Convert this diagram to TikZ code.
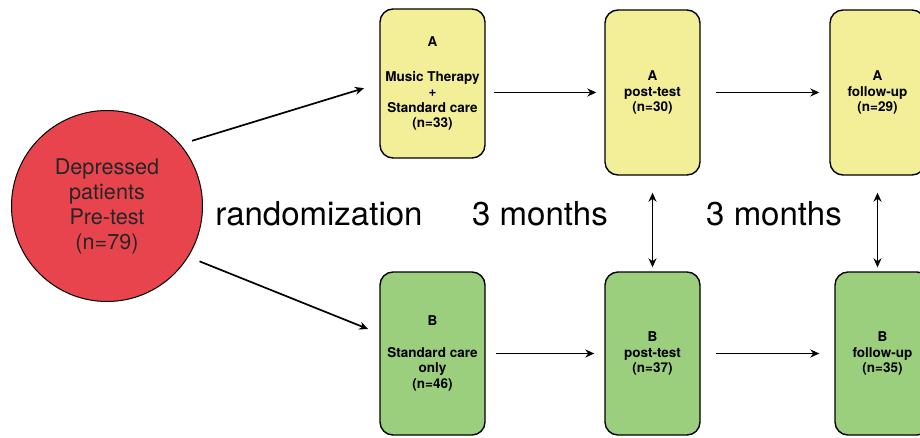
\documentclass[tikz,border=0pt]{standalone}
\usepackage{fontspec}
\setmainfont{TeX Gyre Heros}
\usetikzlibrary{arrows.meta}
\definecolor{boxyellow}{RGB}{243,238,152}
\definecolor{boxgreen}{RGB}{156,207,125}
\definecolor{poolred}{RGB}{232,68,78}
\begin{document}
\begin{tikzpicture}[x=1pt,y=-1pt,
  stage/.style={draw=black, line width=1.4pt, rounded corners=13pt,
    font=\fontsize{13.5}{15.5}\selectfont\bfseries, align=center, inner sep=0pt},
  yellowbox/.style={stage, fill=boxyellow},
  greenbox/.style={stage, fill=boxgreen},
  link/.style={-{Stealth[length=9pt,width=8pt]}, line width=1.7pt},
  twoway/.style={{Stealth[length=9pt,width=8pt]}-{Stealth[length=9pt,width=8pt]}, line width=1.7pt},
  biglabel/.style={font=\fontsize{33}{38}\selectfont}]
\useasboundingbox (0,0) rectangle (920,437);

% pooled sample
\node[circle, draw=black, fill=poolred, line width=1pt, minimum size=191pt,
  font=\fontsize{21.6}{25}\selectfont, align=center, text=black!85]
  (pool) at (107,206) {Depressed\\patients\\Pre-test\\(n=79)};

% group A (music therapy)
\node[yellowbox, minimum width=105pt, minimum height=149pt] (a1) at (432.5,83.5)
  {A\\[19pt]Music Therapy\\+\\Standard care\\(n=33)};
\node[yellowbox, minimum width=95pt, minimum height=165pt] (a2) at (652.5,92.5)
  {A\\post-test\\(n=30)};
\node[yellowbox, minimum width=95pt, minimum height=165pt] (a3) at (877.5,92.5)
  {A\\follow-up\\(n=29)};

% group B (standard care)
\node[greenbox, minimum width=105pt, minimum height=163pt] (b1) at (432.5,353.5)
  {B\\[16pt]Standard care\\only\\(n=46)};
\node[greenbox, minimum width=95pt, minimum height=163pt] (b2) at (652.5,353.5)
  {B\\post-test\\(n=37)};
\node[greenbox, minimum width=95pt, minimum height=163pt] (b3) at (882.5,353.5)
  {B\\follow-up\\(n=35)};

% phase labels
\node[biglabel] (rand) at (319,214) {randomization};
\node[biglabel] (m1) at (540,214) {3 months};
\node[biglabel] (m2) at (774,214) {3 months};

% allocation
\draw[link, shorten <=12pt, shorten >=16pt] (pool.40) -- (a1.west);
\draw[link, shorten <=12pt, shorten >=12pt] (pool.-32) -- ([yshift=20pt]b1.west);

% progression over time
\draw[link, shorten <=8pt, shorten >=8pt] (a1.east |- a2.west) -- (a2.west);
\draw[link, shorten <=15pt, shorten >=10pt] (a2.east) -- (a3.west);
\draw[link, shorten <=10pt, shorten >=10pt] (b1.east) -- (b2.west);
\draw[link, shorten <=15pt, shorten >=15pt] (b2.east) -- (b3.west);

% between-group comparisons
\draw[twoway, shorten <=17pt, shorten >=4pt] (a2.south) -- (b2.north);
\draw[twoway, shorten <=17pt, shorten >=4pt] (a3.south) -- (a3.south |- b3.north);
\end{tikzpicture}
\end{document}
